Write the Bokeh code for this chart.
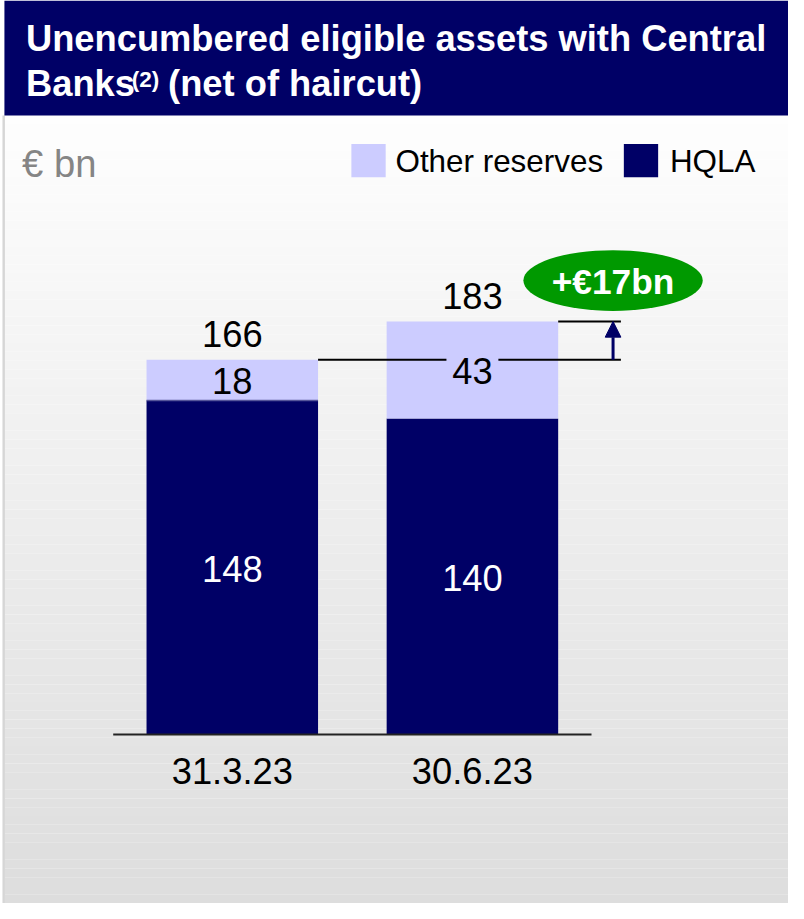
from bokeh.plotting import figure
from bokeh.models import Range1d, Arrow, NormalHead
from bokeh.core.properties import value
from bokeh.embed import file_html
from bokeh.resources import INLINE

# ---- data ----
categories = ["31.3.23", "30.6.23"]
hqla = [148, 140]
other_reserves = [18, 43]
series_names = ["Other reserves", "HQLA"]
title_line1 = "Unencumbered eligible assets with Central"
title_line2a = "Banks"
title_sup = "(2)"
title_line2b = "(net of haircut)"
unit_label = "€ bn"

totals = [h + o for h, o in zip(hqla, other_reserves)]
delta = totals[1] - totals[0]

NAVY = "#000066"
LIGHT = "#ccccff"
GREEN = "#009900"
FONT = value("Liberation Sans")

W, H = 788, 903
REF_W, REF_H = 804, 919
S = W / REF_W  # screen scale for font sizes / screen units


def fs(px):
    return "%.1fpx" % (px * S)


PX_PER_UNIT = 2.297
BASE_Y = 747
p = figure(width=W, height=H, x_range=Range1d(0, REF_W), y_range=Range1d(REF_H, 0),
           output_backend="svg", toolbar_location=None, min_border=0,
           x_axis_type=None, y_axis_type=None)
p.grid.visible = False
p.outline_line_color = None
p.background_fill_color = "white"
p.border_fill_color = "white"
p.extra_y_ranges = {"val": Range1d((BASE_Y - REF_H) / PX_PER_UNIT, BASE_Y / PX_PER_UNIT)}

# background gradient (decoration)
n = 90
y0, y1 = 117, REF_H
tops, bottoms, cols = [], [], []
for i in range(n):
    a = y0 + (y1 - y0) * i / n
    b = y0 + (y1 - y0) * (i + 1) / n
    c = int(round(254 - (254 - 221) * (i + 0.5) / n))
    tops.append(a); bottoms.append(b); cols.append("#%02x%02x%02x" % (c, c, c))
p.quad(left=4, right=REF_W, top=tops, bottom=bottoms, fill_color=cols, line_color=None)
# left border
p.quad(left=2, right=4.5, top=117, bottom=REF_H, fill_color="#d6d6d6", line_color=None)

# title bar
p.quad(left=4, right=REF_W, top=0, bottom=117, fill_color=NAVY, line_color=None)
txt_common = dict(text_font=FONT, text_baseline="middle")
p.text(x=[26], y=[39], text=[title_line1], text_font_size=fs(37), text_font_style="bold",
       text_color="white", **txt_common)
p.text(x=[26], y=[84], text=[title_line2a], text_font_size=fs(37), text_font_style="bold",
       text_color="white", **txt_common)
p.text(x=[134], y=[80], text=[title_sup], text_font_size=fs(23), text_font_style="bold",
       text_color="white", **txt_common)
p.text(x=[171], y=[84], text=[title_line2b], text_font_size=fs(37), text_font_style="bold",
       text_color="white", **txt_common)

# unit label
p.text(x=[22], y=[166], text=[unit_label], text_font_size=fs(39), text_color="#858585", **txt_common)

# legend
p.quad(left=[358, 636], right=[393, 671], top=[146, 146], bottom=[180, 180],
       fill_color=[LIGHT, NAVY], line_color=None)
p.text(x=[403, 683], y=[164, 164], text=series_names, text_font_size=fs(32),
       text_color="black", **txt_common)

# bars
xc = [236.5, 481.5]
bw = 175
p.vbar(x=xc, width=bw, bottom=0, top=hqla, fill_color=NAVY, line_color=None, y_range_name="val")
p.vbar(x=xc, width=bw, bottom=hqla, top=totals, fill_color=LIGHT, line_color=None, y_range_name="val")
p.segment(x0=[xc[0] - bw / 2], x1=[xc[0] + bw / 2], y0=[hqla[0]], y1=[hqla[0]],
          line_color="#55559a", line_width=1.5, y_range_name="val")

# axis baseline
p.segment(x0=[115], x1=[603], y0=[0], y1=[0], line_color="#222222", line_width=2, y_range_name="val")

# value labels
num = dict(text_font_size=fs(37), text_align="center", y_range_name="val", **txt_common)
p.text(x=xc, y=totals, text=[str(t) for t in totals], text_color="black", y_offset=-26 * S, **num)
mid_other = [h + o / 2 for h, o in zip(hqla, other_reserves)]
p.text(x=xc, y=mid_other, text=[str(o) for o in other_reserves], text_color="black", y_offset=1 * S, **num)
mid_hqla = [h / 2 for h in hqla]
p.text(x=xc, y=mid_hqla, text=[str(h) for h in hqla], text_color="white", y_offset=2 * S, **num)

# category labels
p.text(x=xc, y=[0, 0], text=categories, text_color="black", y_offset=37 * S, **num)

# connector lines
p.segment(x0=[xc[0] + bw / 2, 508, xc[1] + bw / 2], x1=[455, 633, 633],
          y0=[totals[0], totals[0], totals[1]], y1=[totals[0], totals[0], totals[1]],
          line_color="black", line_width=2, y_range_name="val")

# arrow
p.add_layout(Arrow(end=NormalHead(size=16 * S, fill_color=NAVY, line_color=NAVY),
                   x_start=625, y_start=totals[0], x_end=625, y_end=totals[1],
                   line_color=NAVY, line_width=3, y_range_name="val"))

# delta bubble
p.ellipse(x=[625], y=[285], width=[183 * S], height=[62 * S], width_units="screen", height_units="screen",
          fill_color=GREEN, line_color=None)
p.text(x=[625], y=[286], text=[f"+€{delta}bn"], text_font_size=fs(36), text_font_style="bold",
       text_color="white", text_align="center", **txt_common)

open("out.html", "w").write(file_html(p, INLINE))
